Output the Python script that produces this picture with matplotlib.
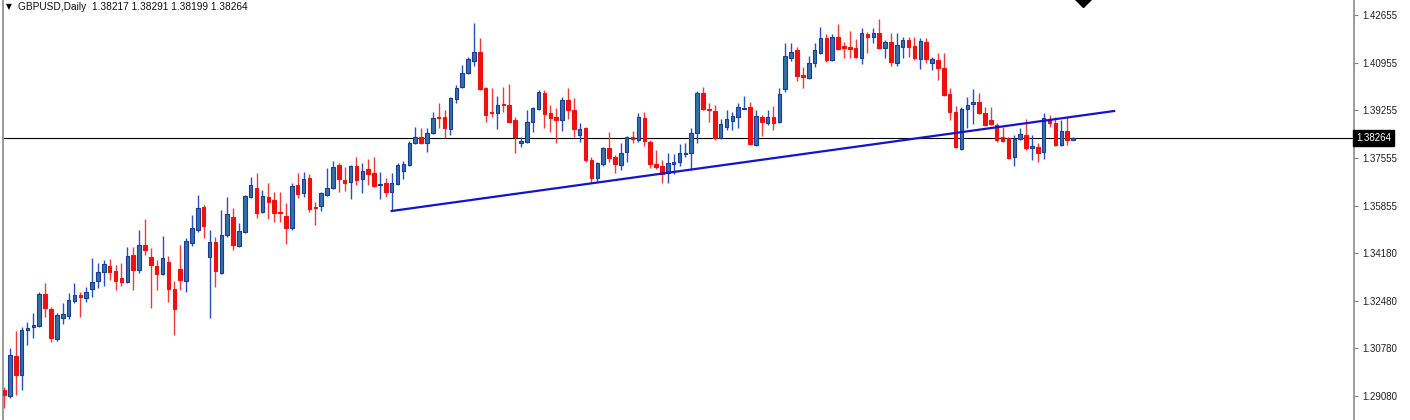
import matplotlib
matplotlib.use('Agg')
import matplotlib.pyplot as plt
import matplotlib.transforms as mtransforms
import numpy as np

# GBPUSD daily candles (oldest first)
opens = [
    1.2929, 1.2908, 1.3051, 1.2983, 1.3143, 1.3154, 1.3157, 1.3271, 1.3218, 1.3111,
    1.3186, 1.3193, 1.3247, 1.3268, 1.3257, 1.3289, 1.3318, 1.3350, 1.3371, 1.3353,
    1.3328, 1.3314, 1.3410, 1.3357, 1.3446, 1.3403, 1.3371, 1.3343, 1.3386, 1.3289,
    1.3361, 1.3318, 1.3453, 1.3500, 1.3582, 1.3403, 1.3457, 1.3346, 1.3482, 1.3546,
    1.3443, 1.3492, 1.3617, 1.3649, 1.3564, 1.3617, 1.3606, 1.3564, 1.3549, 1.3507,
    1.3660, 1.3631, 1.3685, 1.3582, 1.3585, 1.3624, 1.3649, 1.3731, 1.3678, 1.3671,
    1.3728, 1.3681, 1.3717, 1.3703, 1.3660, 1.3667, 1.3635, 1.3663, 1.3710, 1.3731,
    1.3810, 1.3831, 1.3810, 1.3845, 1.3902, 1.3902, 1.3859, 1.3966, 1.4009, 1.4059,
    1.4102, 1.4134, 1.4005, 1.3920, 1.3916, 1.3948, 1.3945, 1.3891, 1.3810, 1.3813,
    1.3884, 1.3931, 1.3988, 1.3916, 1.3902, 1.3891, 1.3963, 1.3927, 1.3838, 1.3863,
    1.3749, 1.3685, 1.3735, 1.3792, 1.3760, 1.3731, 1.3777, 1.3831, 1.3820, 1.3899,
    1.3813, 1.3735, 1.3728, 1.3703, 1.3735, 1.3742, 1.3770, 1.3774, 1.3845, 1.3988,
    1.3931, 1.3924, 1.3827, 1.3866, 1.3888, 1.3902, 1.3931, 1.3938, 1.3802, 1.3902,
    1.3881, 1.3902, 1.3884, 1.4002, 1.4112, 1.4141, 1.4052, 1.4041, 1.4095, 1.4130,
    1.4184, 1.4105, 1.4187, 1.4155, 1.4152, 1.4148, 1.4112, 1.4198, 1.4187, 1.4201,
    1.4148, 1.4169, 1.4095, 1.4152, 1.4177, 1.4155, 1.4109, 1.4169, 1.4095, 1.4105,
    1.4077, 1.3984, 1.3920, 1.3788, 1.3931, 1.3948, 1.3956, 1.3916, 1.3891, 1.3874,
    1.3831, 1.3827, 1.3760, 1.3824, 1.3838, 1.3792, 1.3795, 1.3777, 1.3895, 1.3881,
    1.3802, 1.3852, 1.38217,
]
highs = [
    1.2940, 1.3079, 1.3140, 1.3154, 1.3172, 1.3204, 1.3279, 1.3311, 1.3225, 1.3204,
    1.3239, 1.3275, 1.3311, 1.3279, 1.3296, 1.3400, 1.3382, 1.3393, 1.3396, 1.3375,
    1.3382, 1.3439, 1.3439, 1.3500, 1.3539, 1.3435, 1.3393, 1.3478, 1.3407, 1.3318,
    1.3446, 1.3471, 1.3553, 1.3624, 1.3589, 1.3500, 1.3475, 1.3571, 1.3617, 1.3578,
    1.3524, 1.3624, 1.3688, 1.3703, 1.3642, 1.3667, 1.3635, 1.3635, 1.3596, 1.3667,
    1.3703, 1.3706, 1.3699, 1.3599, 1.3635, 1.3720, 1.3745, 1.3738, 1.3724, 1.3731,
    1.3760, 1.3738, 1.3753, 1.3760, 1.3706, 1.3685, 1.3703, 1.3738, 1.3745, 1.3817,
    1.3867, 1.3863, 1.3863, 1.3920, 1.3952, 1.3927, 1.3973, 1.4016, 1.4087, 1.4116,
    1.4237, 1.4184, 1.4009, 1.4005, 1.3977, 1.4009, 1.4020, 1.3902, 1.3831, 1.3927,
    1.3938, 1.3998, 1.3998, 1.3945, 1.3934, 1.3973, 1.4005, 1.3970, 1.3881, 1.3867,
    1.3760, 1.3742, 1.3795, 1.3849, 1.3767, 1.3810, 1.3834, 1.3852, 1.3916, 1.3920,
    1.3820, 1.3785, 1.3749, 1.3774, 1.3770, 1.3806, 1.3810, 1.3863, 1.3995, 1.4009,
    1.3952, 1.3945, 1.3895, 1.3927, 1.3920, 1.3952, 1.3977, 1.3956, 1.3927, 1.3909,
    1.3927, 1.3941, 1.4005, 1.4166, 1.4166, 1.4152, 1.4080, 1.4120, 1.4166, 1.4223,
    1.4198, 1.4198, 1.4234, 1.4169, 1.4209, 1.4180, 1.4219, 1.4205, 1.4219, 1.4251,
    1.4177, 1.4201, 1.4201, 1.4187, 1.4187, 1.4187, 1.4184, 1.4184, 1.4116, 1.4130,
    1.4130, 1.4005, 1.3941, 1.3938, 1.3973, 1.4002, 1.3988, 1.3938, 1.3938, 1.3881,
    1.3867, 1.3831, 1.3838, 1.3863, 1.3895, 1.3838, 1.3810, 1.3916, 1.3909, 1.3902,
    1.3891, 1.3902, 1.38291,
]
lows = [
    1.2865, 1.2901, 1.2912, 1.2929, 1.3090, 1.3115, 1.3154, 1.3190, 1.3100, 1.3104,
    1.3165, 1.3182, 1.3239, 1.3190, 1.3243, 1.3261, 1.3293, 1.3300, 1.3321, 1.3286,
    1.3300, 1.3311, 1.3286, 1.3346, 1.3410, 1.3222, 1.3286, 1.3339, 1.3243, 1.3125,
    1.3286, 1.3279, 1.3443, 1.3492, 1.3471, 1.3186, 1.3296, 1.3343, 1.3475, 1.3428,
    1.3439, 1.3489, 1.3614, 1.3542, 1.3560, 1.3539, 1.3528, 1.3528, 1.3450, 1.3500,
    1.3614, 1.3617, 1.3564, 1.3517, 1.3567, 1.3621, 1.3646, 1.3635, 1.3638, 1.3610,
    1.3660, 1.3631, 1.3660, 1.3653, 1.3610, 1.3617, 1.3567, 1.3660, 1.3681, 1.3728,
    1.3806, 1.3806, 1.3777, 1.3842, 1.3863, 1.3827, 1.3838, 1.3952, 1.4005, 1.4055,
    1.4084, 1.3998, 1.3884, 1.3902, 1.3859, 1.3920, 1.3881, 1.3774, 1.3795, 1.3810,
    1.3849, 1.3927, 1.3863, 1.3849, 1.3810, 1.3852, 1.3895, 1.3831, 1.3813, 1.3742,
    1.3667, 1.3671, 1.3728, 1.3742, 1.3703, 1.3713, 1.3742, 1.3810, 1.3813, 1.3799,
    1.3720, 1.3717, 1.3667, 1.3667, 1.3699, 1.3728, 1.3760, 1.3713, 1.3810, 1.3927,
    1.3884, 1.3820, 1.3824, 1.3856, 1.3856, 1.3863, 1.3931, 1.3802, 1.3799, 1.3834,
    1.3874, 1.3856, 1.3881, 1.3991, 1.4102, 1.4030, 1.4005, 1.4038, 1.4080, 1.4127,
    1.4098, 1.4102, 1.4141, 1.4112, 1.4112, 1.4112, 1.4091, 1.4130, 1.4166, 1.4144,
    1.4112, 1.4084, 1.4084, 1.4112, 1.4116, 1.4105, 1.4073, 1.4095, 1.4070, 1.4034,
    1.3977, 1.3891, 1.3792, 1.3785, 1.3863, 1.3877, 1.3913, 1.3870, 1.3874, 1.3813,
    1.3813, 1.3753, 1.3728, 1.3820, 1.3785, 1.3749, 1.3742, 1.3753, 1.3867, 1.3799,
    1.3799, 1.3802, 1.38199,
]
closes = [
    1.2912, 1.3054, 1.2983, 1.3143, 1.3150, 1.3161, 1.3271, 1.3222, 1.3115, 1.3197,
    1.3200, 1.3250, 1.3268, 1.3261, 1.3279, 1.3314, 1.3350, 1.3378, 1.3350, 1.3318,
    1.3314, 1.3407, 1.3357, 1.3446, 1.3428, 1.3375, 1.3343, 1.3400, 1.3289, 1.3218,
    1.3321, 1.3460, 1.3507, 1.3578, 1.3514, 1.3457, 1.3353, 1.3482, 1.3557, 1.3446,
    1.3496, 1.3621, 1.3660, 1.3560, 1.3621, 1.3599, 1.3560, 1.3560, 1.3507, 1.3656,
    1.3628, 1.3681, 1.3574, 1.3578, 1.3631, 1.3649, 1.3724, 1.3681, 1.3667, 1.3728,
    1.3678, 1.3710, 1.3699, 1.3656, 1.3663, 1.3635, 1.3667, 1.3731, 1.3735, 1.3810,
    1.3831, 1.3810, 1.3845, 1.3899, 1.3899, 1.3863, 1.3970, 1.4005, 1.4059, 1.4109,
    1.4134, 1.4002, 1.3909, 1.3916, 1.3945, 1.3945, 1.3884, 1.3831, 1.3817, 1.3884,
    1.3934, 1.3991, 1.3913, 1.3899, 1.3891, 1.3963, 1.3927, 1.3859, 1.3859, 1.3749,
    1.3685, 1.3738, 1.3792, 1.3756, 1.3735, 1.3774, 1.3831, 1.3824, 1.3902, 1.3817,
    1.3735, 1.3724, 1.3699, 1.3738, 1.3742, 1.3774, 1.3774, 1.3845, 1.3988, 1.3931,
    1.3927, 1.3827, 1.3877, 1.3895, 1.3906, 1.3938, 1.3934, 1.3806, 1.3906, 1.3884,
    1.3902, 1.3881, 1.3984, 1.4119, 1.4134, 1.4048, 1.4045, 1.4095, 1.4141, 1.4184,
    1.4105, 1.4187, 1.4144, 1.4148, 1.4144, 1.4116, 1.4201, 1.4187, 1.4201, 1.4148,
    1.4169, 1.4098, 1.4159, 1.4177, 1.4152, 1.4112, 1.4173, 1.4109, 1.4109, 1.4077,
    1.3981, 1.3920, 1.3795, 1.3931, 1.3945, 1.3956, 1.3916, 1.3874, 1.3877, 1.3820,
    1.3817, 1.3756, 1.3824, 1.3842, 1.3792, 1.3799, 1.3774, 1.3899, 1.3881, 1.3802,
    1.3852, 1.3820, 1.38264,
]

price_ticks = [1.42655, 1.40955, 1.39255, 1.37555, 1.35855, 1.34180, 1.32480, 1.30780, 1.29080]
last_price = 1.38264
header = 'GBPUSD,Daily  1.38217 1.38291 1.38199 1.38264'

# trend line drawn on the chart: (bar index, price) at each end
trend_start = (66, 1.35672)
trend_end = (189, 1.39235)
# black diamond object, mostly above the top edge
diamond = (183.7, 1.4324)

bull_face = '#3370a8'
bull_edge = '#1a3c94'
bull_wick = '#2a4fc0'
bear_face = '#f01010'
bear_wick = '#f03a3a'

o = np.array(opens)
h = np.array(highs)
l = np.array(lows)
c = np.array(closes)
x = np.arange(len(o))
up = c >= o

fig = plt.figure(figsize=(14.1, 4.2), dpi=100)
ax = fig.add_axes([3 / 1410, 0, 1351 / 1410, 1])

# wicks
ax.vlines(x[up], l[up], h[up], color=bull_wick, linewidth=1, zorder=2)
ax.vlines(x[~up], l[~up], h[~up], color=bear_wick, linewidth=1, zorder=2)

# bodies (keep dojis visible)
body = np.maximum(np.abs(c - o), 0.00005)
bottom = np.minimum(o, c)
ax.bar(x[up], body[up], bottom=bottom[up], width=0.6, color=bull_face,
       edgecolor=bull_edge, linewidth=0.8, zorder=3)
ax.bar(x[~up], body[~up], bottom=bottom[~up], width=0.6, color=bear_face,
       edgecolor=bear_face, linewidth=0.8, zorder=3)

# current price line and trend line
ax.axhline(last_price, color='black', linewidth=0.8, zorder=1)
ax.plot([trend_start[0], trend_end[0]], [trend_start[1], trend_end[1]],
        color='#1414c8', linewidth=1.6, zorder=4)
ax.plot([diamond[0]], [diamond[1]], marker='D', markersize=8, color='black', zorder=5)

px = 5.874  # pixels per bar
xmin = -1 / px
ax.set_xlim(xmin, xmin + 1351 / px)
ax.set_ylim(1.28225, 1.43190)

ax.set_xticks([])
ax.yaxis.tick_right()
ax.set_yticks(price_ticks)
ax.set_yticklabels(['%.5f' % t for t in price_ticks])
ax.tick_params(axis='y', length=3, width=0.8, color='#808080', labelsize=7,
               labelcolor='#202020', pad=3)
for lab in ax.get_yticklabels():
    lab.set_fontfamily('Liberation Sans')

for side in ['top', 'bottom']:
    ax.spines[side].set_visible(False)
for side in ['left', 'right']:
    ax.spines[side].set_color('#8a8a8a')
    ax.spines[side].set_linewidth(1.2)

# price label box on the axis
trans = mtransforms.blended_transform_factory(ax.transAxes, ax.transData)
ax.text(1.0015, last_price, '%.5f' % last_price, transform=trans, ha='left', va='center',
        color='white', fontsize=7, family='Liberation Sans',
        bbox=dict(facecolor='black', edgecolor='black', boxstyle='square,pad=0.3'),
        zorder=6, clip_on=False)

# header
fig.text(6 / 1410, 1 - 7 / 420, '\u25bc', fontsize=5.5, color='black', va='center', ha='left')
fig.text(18 / 1410, 1 - 7 / 420, header, fontsize=7.3, color='#101010', va='center', ha='left',
         family='Liberation Sans')

fig.savefig('out.png', dpi=100)
